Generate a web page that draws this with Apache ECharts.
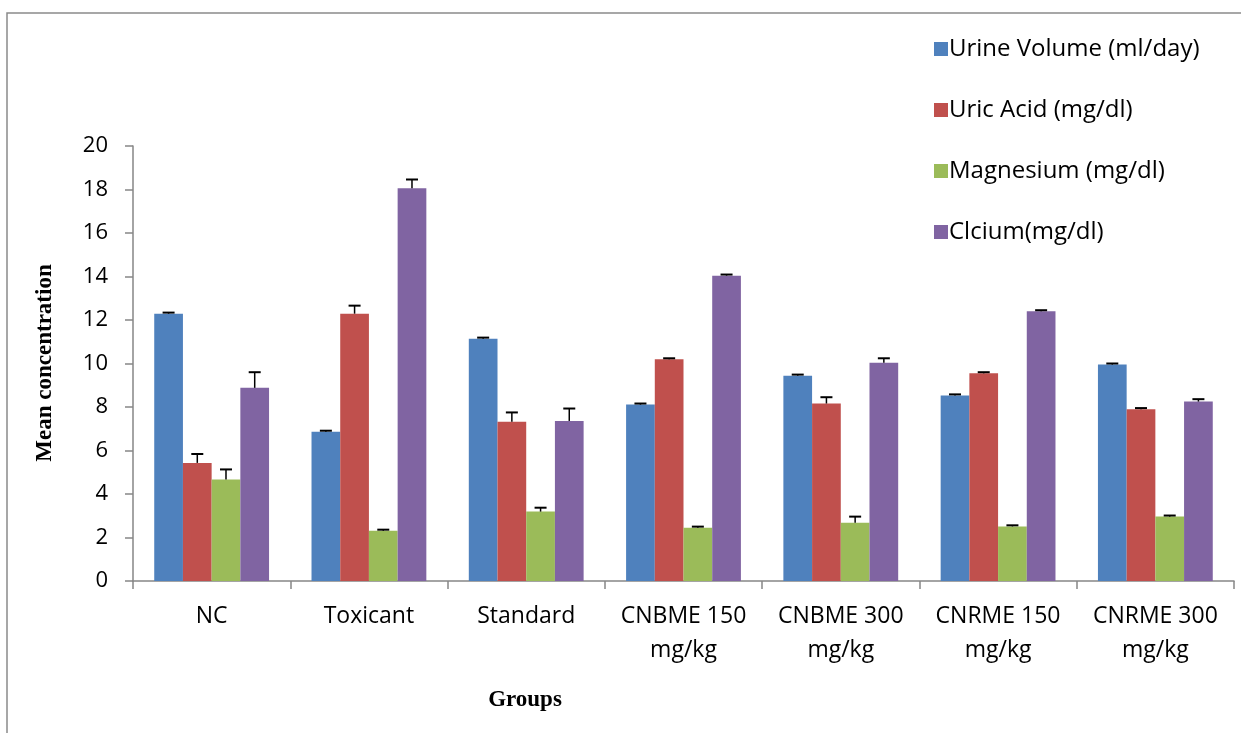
<!DOCTYPE html>
<html>
<head>
<meta charset="utf-8">
<script src="https://cdn.jsdelivr.net/npm/echarts@6/dist/echarts.min.js"></script>
<style>html,body{margin:0;padding:0;background:#fff}#c{width:1241px;height:733px}</style>
</head>
<body>
<div id="c"></div>
<script>
const categories = ['NC', 'Toxicant', 'Standard', 'CNBME 150\nmg/kg', 'CNBME 300\nmg/kg', 'CNRME 150\nmg/kg', 'CNRME 300\nmg/kg'];
const seriesNames = ['Urine Volume (ml/day)', 'Uric Acid (mg/dl)', 'Magnesium (mg/dl)', 'Clcium(mg/dl)'];
const urineVolume = [12.29, 6.86, 11.14, 8.11, 9.44, 8.53, 9.95];
const uricAcid = [5.43, 12.29, 7.32, 10.19, 8.16, 9.55, 7.90];
const magnesium = [4.67, 2.31, 3.19, 2.45, 2.68, 2.51, 2.96];
const calcium = [8.88, 18.06, 7.36, 14.04, 10.04, 12.40, 8.25];
const urineVolumeErr = [0.05, 0.05, 0.05, 0.05, 0.05, 0.05, 0.05];
const uricAcidErr = [0.41, 0.37, 0.43, 0.05, 0.29, 0.05, 0.05];
const magnesiumErr = [0.46, 0.05, 0.18, 0.05, 0.28, 0.05, 0.05];
const calciumErr = [0.72, 0.40, 0.57, 0.05, 0.20, 0.05, 0.11];
const yTicks = { min: 0, max: 20, interval: 2 };

const colors = ['#4F81BD', '#C0504D', '#9BBB59', '#8064A2'];
const values = [urineVolume, uricAcid, magnesium, calcium];
const errors = [urineVolumeErr, uricAcidErr, magnesiumErr, calciumErr];
const catGap = 0.27;
const labelFont = '"Open Sans", Lato, sans-serif';

const chart = echarts.init(document.getElementById('c'), null, { renderer: 'canvas' });

const barSeries = seriesNames.map((n, i) => ({
  name: n,
  type: 'bar',
  data: values[i],
  barGap: '0%',
  barCategoryGap: (catGap * 100) + '%',
  itemStyle: { color: colors[i] },
  z: 2
}));

const errSeries = seriesNames.map((n, i) => ({
  name: n + ' err',
  type: 'custom',
  z: 5,
  data: values[i].map((v, k) => [k, v, errors[i][k]]),
  encode: { x: 0, y: 1 },
  renderItem: function (params, api) {
    const k = api.value(0), v = api.value(1), e = api.value(2);
    const base = api.coord([k, v]);
    const top = api.coord([k, v + e]);
    const catW = api.size([1, 0])[0];
    const bw = catW * (1 - catGap) / 4;
    const x = base[0] + (i - 1.5) * bw;
    const capHalf = 6;
    return {
      type: 'group',
      children: [
        { type: 'line', shape: { x1: x, y1: base[1], x2: x, y2: top[1] }, style: { stroke: '#000', lineWidth: 1.5 } },
        { type: 'line', shape: { x1: x - capHalf, y1: top[1], x2: x + capHalf, y2: top[1] }, style: { stroke: '#000', lineWidth: 2 } }
      ]
    };
  }
}));

chart.setOption({
  animation: false,
  backgroundColor: '#fff',
  grid: { left: 133, right: 7, top: 146, bottom: 152, containLabel: false },
  legend: {
    data: seriesNames,
    orient: 'vertical',
    left: 929,
    top: 32,
    itemWidth: 14,
    itemHeight: 14,
    itemGap: 37,
    icon: 'rect',
    textStyle: { fontFamily: labelFont, fontSize: 24, color: '#000', lineHeight: 24, padding: [0, 0, 0, -4] }
  },
  xAxis: {
    type: 'category',
    data: categories,
    axisLine: { lineStyle: { color: '#868686', width: 1.5 } },
    axisTick: { show: true, alignWithLabel: false, length: 8, lineStyle: { color: '#868686', width: 1.5 } },
    axisLabel: { interval: 0, margin: 18, fontFamily: labelFont, fontSize: 23, color: '#000', lineHeight: 34 }
  },
  yAxis: {
    type: 'value',
    min: yTicks.min,
    max: yTicks.max,
    interval: yTicks.interval,
    splitLine: { show: false },
    axisLine: { show: true, lineStyle: { color: '#868686', width: 1.5 } },
    axisTick: { show: true, length: 8, lineStyle: { color: '#868686', width: 1.5 } },
    axisLabel: { margin: 25, fontFamily: labelFont, fontSize: 22, color: '#000' }
  },
  graphic: [
    { type: 'rect', shape: { x: 7, y: 13, width: 1300, height: 800 }, style: { fill: 'none', stroke: '#8a8a8a', lineWidth: 1.5 }, z: -10, silent: true },
    { type: 'text', x: 45, y: 363, rotation: Math.PI / 2, style: { text: 'Mean concentration', font: 'bold 23px "Liberation Serif", "Times New Roman", serif', fill: '#000', align: 'center', verticalAlign: 'middle' } },
    { type: 'text', x: 525, y: 700, style: { text: 'Groups', font: 'bold 23px "Liberation Serif", "Times New Roman", serif', fill: '#000', align: 'center', verticalAlign: 'middle' } }
  ],
  series: barSeries.concat(errSeries)
});
</script>
</body>
</html>
